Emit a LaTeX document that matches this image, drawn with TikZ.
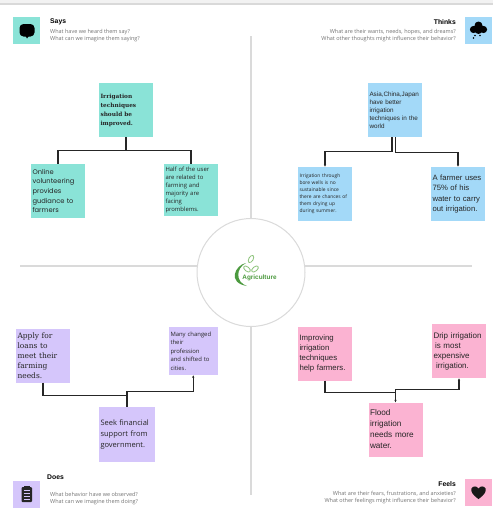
\documentclass[tikz,border=0pt]{standalone}
\usepackage{fontspec}
\usetikzlibrary{arrows.meta}
\setmainfont{Liberation Sans}
\newfontfamily\slabfont{DejaVu Serif}
\newfontfamily\widefont{Poppins}
\newfontfamily\labelfont{Open Sans}
\definecolor{saysteal}{HTML}{8AE3D7}
\definecolor{thinksblue}{HTML}{A3D9F8}
\definecolor{doespurple}{HTML}{D5C6FB}
\definecolor{feelspink}{HTML}{FBB3D2}
\definecolor{ruleline}{HTML}{DADADA}
\definecolor{leafgreen}{HTML}{8CC37A}
\definecolor{logogreen}{HTML}{4C9A3F}
\tikzset{
  note/.style={fill=#1, text=black!85, text width=51pt, minimum height=54pt,
    inner sep=1.5pt, align=left},
  link/.style={black!85, line width=1.2pt},
  heading/.style={font=\bfseries\fontsize{6.8}{8}\selectfont, inner sep=0pt},
  question/.style={font=\labelfont\fontsize{5.5}{7}\selectfont, text=black!55, inner sep=0pt},
  iconbox/.style={fill=#1, minimum size=27pt, inner sep=0pt},
  divider/.style={ruleline, line width=1.2pt}
}
\begin{document}
\begin{tikzpicture}[x=1pt, y=-1pt, >={Latex[length=2.5pt,width=2.5pt]}]
  \useasboundingbox (0,0) rectangle (493,522);

  \fill[black!5] (0,0) rectangle (493,3);
  \fill[black!15] (0,3) rectangle (493,4.5);

  % dividers and centre circle
  \draw[divider] (251,36) -- (251,218);
  \draw[divider] (251,327) -- (251,495);
  \draw[divider] (20,266) -- (197.5,266);
  \draw[divider] (304.5,266) -- (472,266);
  \node[circle, draw=ruleline, fill=white, line width=1pt, minimum size=108pt, inner sep=0pt]
    (hub) at (251,272.5) {};

  % logo
  \fill[logogreen] (246,263) .. controls (235,265) and (227,283) .. (247,286)
    .. controls (235,282) and (236,268) .. (246,263);
  \foreach \lx/\ly/\rot in {251/259/-30, 247/269/50, 255/269/-50} {
      \draw[leafgreen, line width=.8pt, rotate around={\rot:(\lx,\ly)}]
        (\lx,\ly) ellipse (2.2pt and 4pt);
  }
  \node[font=\bfseries\fontsize{6.4}{7}\selectfont, text=logogreen, inner sep=0pt]
    (logotext) at (259.5,278) {Agriculture};

  % says
  \node[iconbox=saysteal] (saysIcon) at (26.5,30.5) {};
  \fill[black, rounded corners=4pt] (19.5,24) rectangle (34.5,36.5);
  \fill[black] (25,35) -- (29.5,35) -- (27,38.5) -- cycle;
  \node[heading, anchor=west] (saysHead) at (50,22) {Says};
  \node[question, anchor=north west, align=left] (saysAsk) at (50,29.5)
    {What have we heard them say?\\What can we imagine them saying?};

  \node[note=saysteal, font=\slabfont\bfseries\fontsize{5.8}{9}\selectfont] (saysTop) at (126,110)
    {Irrigation\\techniques\\should be\\improved.};
  \node[note=saysteal, font=\widefont\fontsize{6.7}{9.6}\selectfont] (saysLeft) at (58,191)
    {Online\\volunteering\\provides\\gudiance to\\farmers};
  \node[note=saysteal, minimum height=52pt, font=\labelfont\fontsize{5.9}{8}\selectfont] (saysRight) at (191,190)
    {Half of the user\\are related to\\farming and\\majority are\\facing\\promblems.};
  \draw[link] (saysTop.south) -- ++(0,13.5) -| (saysLeft.north);
  \draw[link] (saysTop.south) -- ++(0,13.5) -| (saysRight.north);

  % thinks
  \node[iconbox=thinksblue] (thinksIcon) at (478.5,30.5) {};
  \fill[black] (478.5,25.5) circle (4pt) (473.5,29.5) circle (3.6pt) (483.5,29.5) circle (3.6pt)
    (478.5,30) circle (4pt);
  \fill[black] (475,35.5) circle (.9pt) (480,35.5) circle (.9pt) (473.5,38) circle (.9pt);
  \node[heading, anchor=east] (thinksHead) at (456,22) {Thinks};
  \node[question, anchor=north east, align=right] (thinksAsk) at (456,29.5)
    {What are their wants, needs, hopes, and dreams?\\What other thoughts might influence their behavior?};

  \node[note=thinksblue, font=\fontsize{6.3}{8}\selectfont] (thinksTop) at (395,110)
    {Asia,China,Japan\\have better\\irrigation\\techniques in the\\world};
  \node[note=thinksblue, font=\labelfont\fontsize{4.9}{7}\selectfont] (thinksLeft) at (325,194)
    {Irrigation through\\bore wells is no\\sustainable since\\there are chances of\\them drying up\\during summer.};
  \node[note=thinksblue, font=\fontsize{7.7}{10.5}\selectfont] (thinksRight) at (458,194)
    {A farmer uses\\75\% of his\\water to carry\\out irrigation.};
  \draw[link, ->] ([xshift=-3pt]thinksTop.south) -- ++(0,14.5) -| (thinksLeft.north);
  \draw[link, ->] ([xshift=.5pt]thinksTop.south) -- ++(0,15.5) -| (thinksRight.north);

  % does
  \node[iconbox=doespurple] (doesIcon) at (26.5,494.5) {};
  \fill[black!85, rounded corners=1pt] (21.5,487) rectangle (32,502);
  \fill[black!85] (24,485.5) rectangle (29.5,488);
  \foreach \ly in {490.5,493.5,496.5,499.5} {
      \draw[doespurple, line width=.6pt] (23.5,\ly) -- (30,\ly);
  }
  \node[heading, anchor=west] (doesHead) at (47,477) {Does};
  \node[question, anchor=north west, align=left] (doesAsk) at (50,492)
    {What behavior have we observed?\\What can we imagine them doing?};

  \node[note=doespurple, font=\slabfont\fontsize{7.5}{10}\selectfont] (doesLeft) at (43,355.5)
    {Apply for\\loans to\\meet their\\farming\\needs.};
  \node[note=doespurple, text width=45.5pt, minimum height=48pt, font=\labelfont\fontsize{5.9}{8.5}\selectfont] (doesRight) at (193.25,351)
    {Many changed\\their\\profession\\and shifted to\\cities.};
  \node[note=doespurple, text width=53pt, minimum height=55pt, font=\labelfont\fontsize{7.5}{11}\selectfont] (doesBottom) at (127,434.5)
    {Seek financial\\support from\\government.};
  \draw[link] (doesLeft.south) -- ++(0,13) -| (doesBottom.north);
  \draw[link, ->] (doesBottom.north) -- ++(0,-15.5) -| (doesRight.south);

  % feels
  \node[iconbox=feelspink] (feelsIcon) at (478.5,492.5) {};
  \fill[black!90] (478.5,499) .. controls (472,494.5) and (470.5,491) .. (471.5,488.5)
    .. controls (473,485.5) and (477,486) .. (478.5,488.5)
    .. controls (480,486) and (484,485.5) .. (485.5,488.5)
    .. controls (486.5,491) and (485,494.5) .. (478.5,499);
  \node[heading, anchor=east] (feelsHead) at (456,484) {Feels};
  \node[question, anchor=north east, align=right] (feelsAsk) at (456,491)
    {What are their fears, frustrations, and anxieties?\\What other feelings might influence their behavior?};

  \node[note=feelspink, font=\fontsize{7.8}{10}\selectfont] (feelsLeft) at (325,353.5)
    {Improving\\irrigation\\techniques\\help farmers.};
  \node[note=feelspink, font=\fontsize{8}{10}\selectfont] (feelsRight) at (459,351)
    {Drip irrigation\\\hspace*{1.5pt}is most\\expensive\\\hspace*{2.5pt}irrigation.};
  \node[note=feelspink, font=\fontsize{8.2}{11}\selectfont] (feelsBottom) at (395.5,429.5)
    {Flood\\irrigation\\needs more\\water.};
  \draw[link, ->] (feelsLeft.south) -- ++(0,11.5) -| (feelsBottom.north);
  \draw[link, ->] (feelsBottom.north) -- ++(0,-13) -| (feelsRight.south);

\end{tikzpicture}
\end{document}
